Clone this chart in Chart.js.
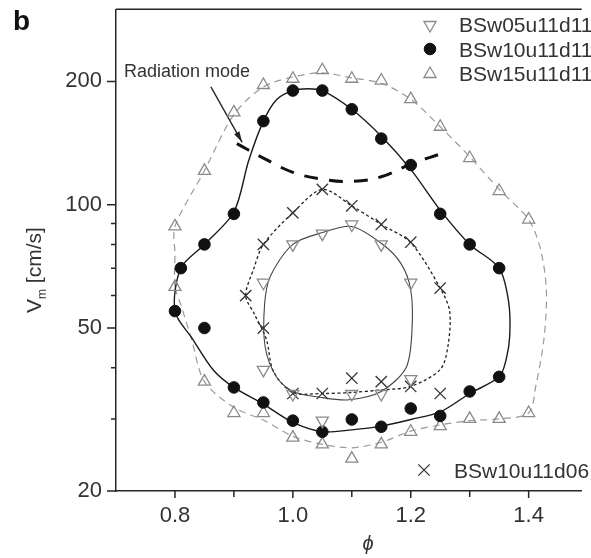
<!DOCTYPE html>
<html>
<head>
  <title>Vm vs phi</title>
  <script src="https://cdn.jsdelivr.net/npm/chart.js"></script>
  <style>
    body { margin: 0; background: #fff; }
    canvas { display: block; }
  </style>
</head>
<body>
<canvas id="vmChart" width="591" height="558"></canvas>
<script>
  const FONT = "'Liberation Sans', Arial, Helvetica, sans-serif";
  const INK = '#262626';
  const GREY = '#8a8a8a';

  const seriesNames = ['BSw05u11d11', 'BSw10u11d11', 'BSw15u11d11', 'BSw10u11d06'];

  // axis ticks
  const phiTicks = [0.8, 1.0, 1.2, 1.4];
  const phiMinorTicks = [0.9, 1.1, 1.3];
  const vTicks = [20, 50, 100, 200];
  const vMinorTicks = [30, 40, 60, 70, 80, 90];

  // measured points
  const w05Phi = [0.95, 0.95, 1.0, 1.0, 1.05, 1.05, 1.1, 1.1, 1.15, 1.15, 1.2, 1.2];
  const w05V   = [64.5, 39.5, 80, 34.5, 85, 29.7, 89.5, 34.5, 80, 34.5, 64.5, 37.5];

  const w10Phi = [0.8, 0.81, 0.85, 0.9, 0.95, 1.0, 1.05, 1.1, 1.15, 1.2, 1.25, 1.3, 1.35,
                  1.35, 1.3, 1.25, 1.2, 1.15, 1.1, 1.05, 1.0, 0.95, 0.9, 0.85];
  const w10V   = [55, 70, 80, 95, 160, 190, 190, 171, 145, 125, 95, 80, 70,
                  38, 35, 30.5, 31.8, 28.7, 29.9, 27.9, 29.7, 32.9, 35.8, 50];

  const w15Phi = [0.8, 0.8, 0.85, 0.9, 0.95, 1.0, 1.05, 1.1, 1.15, 1.2, 1.25, 1.3, 1.35, 1.4,
                  1.4, 1.35, 1.3, 1.25, 1.2, 1.15, 1.1, 1.05, 1.0, 0.95, 0.9, 0.85];
  const w15V   = [63, 88.5, 121, 168, 196, 203, 213, 203, 201, 181, 155, 130, 108, 92,
                  31, 30, 30, 28.8, 27.9, 26, 24, 26, 27, 31, 31, 37];

  const d06Phi = [0.92, 0.95, 0.95, 1.0, 1.0, 1.05, 1.05, 1.1, 1.1, 1.15, 1.15, 1.2, 1.2, 1.25, 1.25];
  const d06V   = [60, 80, 50, 95.5, 34.6, 109, 34.6, 99.4, 37.7, 89.5, 37, 81, 36, 62.6, 34.6];

  // hand-drawn envelopes around each data set (closed loops)
  const w05LoopPhi = [0.952, 0.962, 1.0, 1.05, 1.1, 1.15, 1.183, 1.2, 1.202, 1.192, 1.15, 1.095, 1.05, 1.0, 0.972, 0.953];
  const w05LoopV   = [57, 67, 80, 85.5, 88.5, 80.5, 72, 62, 49, 40, 35, 33.4, 33.8, 35, 38, 45];

  const w10LoopPhi = [0.8, 0.81, 0.85, 0.9, 0.925, 0.95, 0.973, 1.0, 1.025, 1.05, 1.1, 1.15, 1.2, 1.25, 1.3, 1.35,
                      1.366, 1.368, 1.362, 1.35, 1.3, 1.25, 1.2, 1.15, 1.1, 1.05, 1.0, 0.95, 0.9, 0.865, 0.83];
  const w10LoopV   = [55, 70, 80, 96, 128, 160, 181, 190, 192, 190, 171, 147, 122, 97, 80, 70,
                      58, 48, 42, 38, 34.6, 31.2, 29.9, 28.8, 28.2, 27.9, 29.4, 32.6, 35.8, 39.5, 47];

  const w15LoopPhi = [0.8, 0.8, 0.8, 0.85, 0.9, 0.95, 1.0, 1.05, 1.1, 1.15, 1.2, 1.25, 1.3, 1.35, 1.4, 1.42, 1.43,
                      1.426, 1.412, 1.4, 1.35, 1.3, 1.25, 1.2, 1.15, 1.1, 1.05, 1.0, 0.95, 0.9, 0.85, 0.828, 0.81];
  const w15LoopV   = [63, 76, 88.5, 121, 166, 194, 205, 210, 204, 198, 181, 155, 131, 109, 92, 78, 62,
                      47, 36, 31, 30, 29.7, 29, 28, 26.3, 25.5, 26, 27.2, 29.8, 32, 37, 47, 57];

  const d06LoopPhi = [0.92, 0.934, 0.95, 1.0, 1.05, 1.1, 1.15, 1.2, 1.25, 1.266, 1.263, 1.25, 1.2, 1.15, 1.1, 1.05, 1.0, 0.967, 0.955, 0.935];
  const d06LoopV   = [60, 70, 80, 95.6, 109, 99.4, 89.5, 80.8, 62.6, 55, 45, 39.6, 36, 35.3, 34.8, 34.6, 34.8, 39.2, 47, 54];

  // radiation mode branch and its pointer
  const radPhi = [0.905, 0.95, 1.0, 1.05, 1.1, 1.15, 1.2, 1.25];
  const radV   = [141, 130, 120, 115.4, 114, 117, 125.7, 133];
  const arrowPhi = [0.861, 0.914];
  const arrowV   = [194, 142];

  const pts = (xs, ys) => xs.map((x, i) => ({ x, y: ys[i] }));

  // wrap the loop with one extra point on each side so the spline is smooth at the seam,
  // then hide the two padding segments
  function loopCurve(xs, ys, color, width, dash) {
    const p = pts(xs, ys);
    const n = p.length;
    return {
      data: [p[n - 1], ...p, p[0], p[1]],
      showLine: true,
      tension: 0.3,
      pointRadius: 0,
      borderColor: color,
      borderWidth: width,
      borderDash: dash,
      segment: {
        borderColor: c => (c.p0DataIndex === 0 || c.p1DataIndex === n + 2) ? 'rgba(0,0,0,0)' : undefined
      },
      order: 5
    };
  }

  const markers = [
    { data: pts(w05Phi, w05V), pointStyle: 'triangle', rotation: 180, pointRadius: 7,
      borderColor: GREY, backgroundColor: 'rgba(0,0,0,0)', borderWidth: 1.3, order: 1 },
    { data: pts(w10Phi, w10V), pointStyle: 'circle', pointRadius: 5.8,
      borderColor: '#111', backgroundColor: '#111', borderWidth: 1, order: 1 },
    { data: pts(w15Phi, w15V), pointStyle: 'triangle', rotation: 0, pointRadius: 7,
      borderColor: GREY, backgroundColor: 'rgba(0,0,0,0)', borderWidth: 1.3, order: 1 },
    { data: pts(d06Phi, d06V), pointStyle: 'crossRot', pointRadius: 8,
      borderColor: '#333', backgroundColor: '#333', borderWidth: 1.3, order: 1 }
  ];
  markers.forEach((m, i) => { m.label = seriesNames[i]; m.showLine = false; m.pointRotation = m.rotation || 0; });

  const datasets = [
    ...markers,
    loopCurve(w05LoopPhi, w05LoopV, '#444', 1.1, []),
    loopCurve(w10LoopPhi, w10LoopV, '#1a1a1a', 1.4, []),
    loopCurve(w15LoopPhi, w15LoopV, '#9a9a9a', 1.2, [7, 5]),
    loopCurve(d06LoopPhi, d06LoopV, '#222', 1.3, [3, 2.5]),
    { data: pts(radPhi, radV), showLine: true, tension: 0.4, pointRadius: 0,
      borderColor: '#111', borderWidth: 3, borderDash: [14, 11], order: 4 },
    { data: pts(arrowPhi, arrowV), showLine: true, tension: 0, pointRadius: 0,
      borderColor: '#222', borderWidth: 1.3, order: 4 }
  ];
  const ARROW = datasets.length - 1;

  // short outward ticks, frame top and arrowhead
  const frame = {
    id: 'frame',
    afterDraw(chart) {
      const { ctx, chartArea: a, scales: { x, y } } = chart;
      ctx.save();
      ctx.strokeStyle = INK;
      ctx.lineWidth = 1.5;
      ctx.beginPath();
      ctx.moveTo(a.left, a.top);
      ctx.lineTo(a.right, a.top);
      phiTicks.forEach(v => { const p = x.getPixelForValue(v); ctx.moveTo(p, a.bottom); ctx.lineTo(p, a.bottom + 7); });
      phiMinorTicks.forEach(v => { const p = x.getPixelForValue(v); ctx.moveTo(p, a.bottom); ctx.lineTo(p, a.bottom + 6); });
      vTicks.forEach(v => { const p = y.getPixelForValue(v); ctx.moveTo(a.left, p); ctx.lineTo(a.left - 9, p); });
      vMinorTicks.forEach(v => { const p = y.getPixelForValue(v); ctx.moveTo(a.left, p); ctx.lineTo(a.left - 5, p); });
      ctx.stroke();

      // arrowhead at the end of the pointer
      const pp = chart.getDatasetMeta(ARROW).data;
      const p0 = pp[0], p1 = pp[1];
      const ang = Math.atan2(p1.y - p0.y, p1.x - p0.x);
      ctx.fillStyle = '#222';
      ctx.beginPath();
      ctx.moveTo(p1.x, p1.y);
      ctx.lineTo(p1.x - 11 * Math.cos(ang) + 3 * Math.sin(ang), p1.y - 11 * Math.sin(ang) - 3 * Math.cos(ang));
      ctx.lineTo(p1.x - 11 * Math.cos(ang) - 3 * Math.sin(ang), p1.y - 11 * Math.sin(ang) + 3 * Math.cos(ang));
      ctx.closePath();
      ctx.fill();
      ctx.restore();
    }
  };

  // panel letter, annotation, axis titles and legend
  const labels = {
    id: 'labels',
    afterDraw(chart) {
      const { ctx } = chart;
      ctx.save();
      ctx.fillStyle = '#111';
      ctx.textBaseline = 'alphabetic';
      ctx.textAlign = 'left';
      ctx.font = 'bold 28px ' + FONT;
      ctx.fillText('b', 13, 30);

      ctx.fillStyle = '#333';
      ctx.font = '18px ' + FONT;
      ctx.fillText('Radiation mode', 124, 77);

      // phi
      ctx.font = 'italic 20px ' + FONT;
      ctx.textAlign = 'center';
      ctx.fillText('\u03d5', 368, 550);

      // V_m [cm/s], rotated
      ctx.save();
      ctx.translate(41, 313);
      ctx.rotate(-Math.PI / 2);
      ctx.textAlign = 'left';
      ctx.font = '21px ' + FONT;
      ctx.fillText('V', 0, 0);
      let w = ctx.measureText('V').width;
      ctx.font = '12px ' + FONT;
      ctx.fillText('m', w, 5);
      w += ctx.measureText('m').width;
      ctx.font = '21px ' + FONT;
      ctx.fillText(' [cm/s]', w, 0);
      ctx.restore();

      // legend
      const rows = [
        { i: 0, x: 430, y: 25, ty: 32 },
        { i: 1, x: 430, y: 49, ty: 57 },
        { i: 2, x: 430, y: 74, ty: 81 },
        { i: 3, x: 424, y: 470, ty: 478 }
      ];
      ctx.font = '21px ' + FONT;
      ctx.textAlign = 'left';
      rows.forEach(r => {
        const m = markers[r.i];
        ctx.strokeStyle = m.borderColor;
        ctx.fillStyle = m.backgroundColor;
        ctx.lineWidth = m.borderWidth;
        Chart.helpers.drawPoint(ctx, {
          pointStyle: m.pointStyle, rotation: m.pointRotation,
          radius: m.pointRadius, borderWidth: m.borderWidth
        }, r.x, r.y);
        ctx.fillStyle = '#333';
        ctx.fillText(seriesNames[r.i], r.x + (r.i === 3 ? 30 : 29), r.ty);
      });
      ctx.restore();
    }
  };

  new Chart(document.getElementById('vmChart'), {
    type: 'scatter',
    data: { datasets },
    options: {
      responsive: false,
      animation: false,
      devicePixelRatio: 1,
      layout: { padding: { top: 8, left: 0, right: 0, bottom: 0 } },
      elements: { point: { hoverRadius: 0 } },
      plugins: { legend: { display: false }, tooltip: { enabled: false } },
      scales: {
        x: {
          type: 'linear', min: 0.7, max: 1.49,
          grid: { display: false, drawTicks: false },
          border: { color: INK, width: 1.5 },
          ticks: {
            font: { family: FONT, size: 22 }, color: '#333', padding: 12, autoSkip: false, maxRotation: 0,
            callback: v => v.toFixed(1)
          },
          afterBuildTicks: s => { s.ticks = phiTicks.map(v => ({ value: v })); },
          afterFit: s => { s.height = 67; s.paddingLeft = 0; s.paddingRight = 0; }
        },
        y: {
          type: 'logarithmic', min: 20, max: 300,
          grid: { display: false, drawTicks: false },
          border: { color: INK, width: 1.5 },
          ticks: {
            font: { family: FONT, size: 22 }, color: '#333', padding: 14, autoSkip: false,
            callback: v => String(v)
          },
          afterBuildTicks: s => { s.ticks = vTicks.map(v => ({ value: v })); },
          afterFit: s => { s.width = 116; s.paddingTop = 0; s.paddingBottom = 0; }
        }
      }
    },
    plugins: [frame, labels]
  });
</script>
</body>
</html>
